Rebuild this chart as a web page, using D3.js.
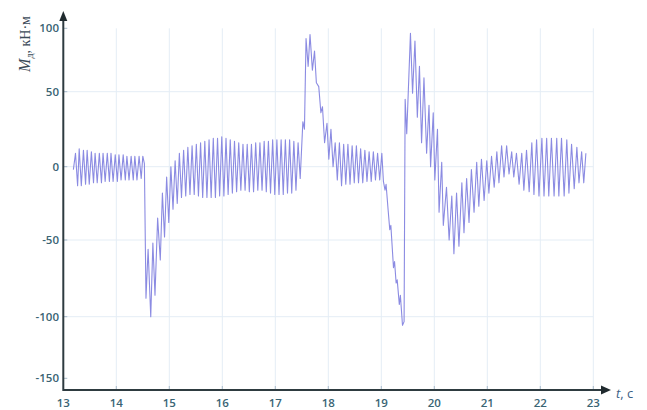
<!DOCTYPE html>
<html lang="ru">
<head>
	<meta charset="UTF-8"/>
	<title>Md(t)</title>
	<style type="text/css">
		body {
		  margin: 0;
		  background: #ffffff;
		}
		svg {
		  display: block;
		}
		.grid line {
		  stroke: #e4edf5;
		  stroke-width: 1;
		}
		.tick-mark {
		  stroke: #a9bccb;
		  stroke-width: 1;
		}
		.axis-line {
		  stroke: #2e3b40;
		  stroke-width: 2;
		}
		.arrow {
		  fill: #1f2a2e;
		}
		text.tick-label {
		  font-family: "Open Sans", sans-serif;
		  font-size: 11.5px;
		  font-weight: 600;
		  fill: #3a6474;
		}
		.signal {
		  fill: none;
		  stroke: #7e7edf;
		  stroke-width: 1.1;
		  stroke-opacity: 0.9;
		  stroke-linejoin: round;
		}
	</style>
</head>
<body>
<svg width="647" height="410"></svg>
<script src="https://d3js.org/d3.v7.min.js"></script>
<script type='text/javascript'>
    const xTicks = [13, 14, 15, 16, 17, 18, 19, 20, 21, 22, 23];
    const yTicks = [-150, -100, -50, 0, 50, 100];
    const yGrid = [-100, -50, 0, 50];

    // [t, Md] turning points
    const segSteady = [[13.19,-2],[13.23,9],[13.27,-13],[13.30,12],[13.34,-13],[13.38,11],[13.42,-12],[13.45,11],
      [13.49,-12],[13.53,10],[13.57,-11],[13.60,9],[13.64,-11],[13.68,9],[13.72,-11],[13.75,9],[13.79,-10],
      [13.83,9],[13.87,-10],[13.90,9],[13.94,-10],[13.98,8],[14.02,-10],[14.05,8],[14.09,-9],[14.13,8],
      [14.17,-9],[14.20,7],[14.24,-9],[14.28,7],[14.32,-9],[14.35,7],[14.39,-9],[14.43,7],[14.47,-8],[14.50,7]];
    const segDip = [[14.53,2],[14.56,-88],[14.60,-56],[14.65,-100],[14.69,-52],[14.73,-86],[14.78,-35],
      [14.83,-63],[14.87,-18],[14.91,-48],[14.95,-7],[14.99,-38],[15.03,0],[15.07,-29],[15.11,4],[15.15,-25],
      [15.19,9],[15.23,-21],[15.27,11],[15.31,-20],[15.35,13]];
    const segMid = [[15.39,-19],[15.43,14],[15.47,-19],[15.51,15],[15.55,-20],[15.59,16],[15.63,-21],[15.67,17],
      [15.71,-21],[15.75,18],[15.79,-21],[15.83,19],[15.87,-21],[15.91,19],[15.95,-20],[15.99,20],[16.03,-20],
      [16.07,19],[16.11,-19],[16.15,18],[16.19,-18],[16.23,17],[16.27,-17],[16.31,16],[16.35,-16],[16.39,15],
      [16.43,-16],[16.47,15],[16.51,-17],[16.55,15],[16.59,-17],[16.63,16],[16.67,-16],[16.71,16],[16.75,-16],
      [16.79,17],[16.83,-17],[16.87,17],[16.91,-18],[16.95,18],[16.99,-19],[17.03,18],[17.07,-19],[17.11,18],
      [17.15,-19],[17.19,18],[17.23,-18],[17.27,18],[17.31,-18],[17.35,17],[17.39,-16],[17.43,16],[17.47,-8]];
    const segPeak1 = [[17.52,30],[17.55,25],[17.58,92],[17.62,70],[17.655,95],[17.70,67],[17.74,82],[17.775,57],
      [17.82,54],[17.86,36],[17.89,40],[17.93,16],[17.975,29],[18.01,5],[18.05,25],[18.09,0],[18.13,16],
      [18.17,-9],[18.21,16],[18.25,-13]];
    const segCalm = [[18.29,15],[18.33,-12],[18.37,15],[18.41,-12],[18.45,14],[18.49,-11],[18.53,14],[18.57,-11],
      [18.61,12],[18.65,-11],[18.69,11],[18.73,-10],[18.77,10],[18.81,-10],[18.85,10],[18.89,-9],[18.93,9],
      [18.97,-9],[19.01,9],[19.04,-10]];
    const segFall = [[19.07,-16],[19.09,-12],[19.13,-30],[19.16,-43],[19.18,-40],[19.23,-68],[19.25,-64],
      [19.28,-78],[19.30,-76],[19.34,-92],[19.36,-86],[19.40,-107]];
    const segPeak2 = [[19.43,-104],[19.45,45],[19.48,22],[19.55,96],[19.59,49],[19.635,90],[19.68,33],[19.72,70],
      [19.76,16],[19.805,61],[19.855,9],[19.90,41],[19.93,0],[19.98,36],[20.01,-9],[20.06,25],[20.09,-31],
      [20.14,3],[20.17,-40],[20.23,-14],[20.28,-50]];
    const segTail = [[20.33,-20],[20.37,-59],[20.42,-18],[20.465,-54],[20.52,-11],[20.56,-45],[20.61,-8],
      [20.655,-38],[20.70,-2],[20.75,-31],[20.80,3],[20.84,-27],[20.89,5],[20.94,-23],[20.99,4],[21.03,-18],
      [21.08,7],[21.13,-14],[21.18,10],[21.22,-11],[21.27,14],[21.315,-7],[21.365,14],[21.41,-5],[21.46,10],
      [21.50,-7],[21.55,9],[21.60,-12],[21.65,9],[21.69,-16],[21.74,11],[21.79,-17],[21.84,16],[21.88,-19],
      [21.93,18],[21.975,-20],[22.03,19],[22.07,-20],[22.12,19],[22.16,-20],[22.21,19],[22.26,-20],[22.31,19],
      [22.35,-20],[22.40,19],[22.45,-20],[22.50,18],[22.54,-18],[22.59,15],[22.64,-15],[22.69,13],[22.73,-11],
      [22.78,10],[22.82,-11],[22.86,9]];

    const series = [].concat(segSteady, segDip, segMid, segPeak1, segCalm, segFall, segPeak2, segTail);

    const svg = d3.select('svg');
    const x0 = 63.3, x1 = 593.3, axisY = 390;

    const xScale = d3.scaleLinear()
      .domain([13, 23])
      .range([x0, x1]);
    // tick spacing in the source is uneven, follow it piecewise
    const yScale = d3.scaleLinear()
      .domain([-158, -150, -100, -50, 0, 50, 100])
      .range([axisY, 378.3, 316.7, 240, 166.7, 91.7, 28.3]);

    const grid = svg.append('g').attr('class', 'grid');
    grid.selectAll('.vg')
      .data(xTicks.slice(1))
      .enter()
      .append('line')
      .attr('x1', (d) => xScale(d))
      .attr('x2', (d) => xScale(d))
      .attr('y1', yScale(100))
      .attr('y2', axisY);
    grid.selectAll('.hg')
      .data(yGrid)
      .enter()
      .append('line')
      .attr('x1', x0)
      .attr('x2', xScale(23))
      .attr('y1', (d) => yScale(d))
      .attr('y2', (d) => yScale(d));

    svg.selectAll('.xt')
      .data(xTicks.slice(1))
      .enter()
      .append('line')
      .attr('class', 'tick-mark')
      .attr('x1', (d) => xScale(d))
      .attr('x2', (d) => xScale(d))
      .attr('y1', axisY - 4)
      .attr('y2', axisY);
    svg.selectAll('.yt')
      .data(yTicks)
      .enter()
      .append('line')
      .attr('class', 'tick-mark')
      .attr('x1', x0)
      .attr('x2', x0 + 4)
      .attr('y1', (d) => yScale(d))
      .attr('y2', (d) => yScale(d));

    const line = d3.line()
      .x((d) => xScale(d[0]))
      .y((d) => yScale(d[1]));
    svg.append('path')
      .datum(series)
      .attr('class', 'signal')
      .attr('d', line);

    svg.append('line')
      .attr('class', 'axis-line')
      .attr('x1', x0).attr('x2', 603)
      .attr('y1', axisY).attr('y2', axisY);
    svg.append('line')
      .attr('class', 'axis-line')
      .attr('x1', x0).attr('x2', x0)
      .attr('y1', axisY + 1).attr('y2', 20);
    svg.append('path')
      .attr('class', 'arrow')
      .attr('d', `M${x0 - 4},21 L${x0},11 L${x0 + 4},21 Z`);
    svg.append('path')
      .attr('class', 'arrow')
      .attr('d', `M601,${axisY - 4.5} L611,${axisY} L601,${axisY + 4.5} Z`);

    svg.selectAll('.xl')
      .data(xTicks)
      .enter()
      .append('text')
      .attr('class', 'tick-label')
      .attr('x', (d) => xScale(d))
      .attr('y', 407)
      .attr('text-anchor', 'middle')
      .text((d) => d);
    svg.selectAll('.yl')
      .data(yTicks)
      .enter()
      .append('text')
      .attr('class', 'tick-label')
      .attr('x', 59)
      .attr('y', (d) => yScale(d) + 4)
      .attr('text-anchor', 'end')
      .text((d) => d);

    const tLabel = svg.append('text')
      .attr('x', 616)
      .attr('y', 398)
      .style('font-family', '"Open Sans", sans-serif')
      .style('font-size', '13px')
      .style('fill', '#3c5f86');
    tLabel.append('tspan').style('font-style', 'italic').text('t');
    tLabel.append('tspan').text(', c');

    const mLabel = svg.append('text')
      .attr('transform', 'translate(30, 44) rotate(-90)')
      .attr('text-anchor', 'middle')
      .style('font-family', '"Liberation Serif", "DejaVu Serif", serif')
      .style('font-size', '14px')
      .style('fill', '#3b4a58');
    mLabel.append('tspan').style('font-style', 'italic').style('font-size', '16px').text('M');
    mLabel.append('tspan').attr('dy', 3).style('font-size', '10px').text('д');
    mLabel.append('tspan').attr('dy', -3).text(', кН·м');
</script>
</body>
</html>
